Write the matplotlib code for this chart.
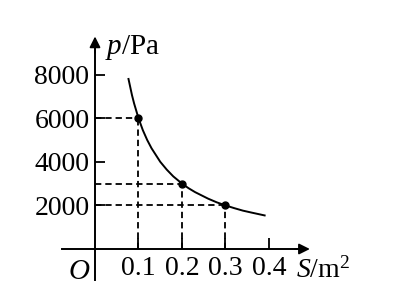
import numpy as np
import matplotlib
matplotlib.use("Agg")
import matplotlib.pyplot as plt

# values
S_pts = [0.1, 0.2, 0.3]
p_pts = [6000, 3000, 2000]

# curve points
S_curve = [0.077, 0.085, 0.09, 0.1, 0.11, 0.12, 0.13, 0.15, 0.165, 0.18, 0.2,
           0.215, 0.23, 0.26, 0.28, 0.3, 0.32, 0.34, 0.36, 0.39]
p_curve = [7800, 7060, 6670, 6000, 5450, 5000, 4620, 4000, 3640, 3330, 3000,
           2790, 2610, 2310, 2140, 2000, 1875, 1760, 1670, 1540]

x_ticks = [0.1, 0.2, 0.3, 0.4]
x_labels = ["0.1", "0.2", "0.3", "0.4"]
y_ticks = [2000, 4000, 6000, 8000]
y_labels = ["2000", "4000", "6000", "8000"]

plt.rcParams["font.family"] = "Liberation Serif"
plt.rcParams["mathtext.fontset"] = "custom"
plt.rcParams["mathtext.rm"] = "Liberation Serif"
plt.rcParams["mathtext.it"] = "Liberation Serif:italic"

fig = plt.figure(figsize=(3.97, 3.01), dpi=100)
ax = fig.add_axes([0, 0, 1, 1])
ax.set_xlim(-0.2184, 0.6943)
ax.set_ylim(-2385, 11422)

# axes through the origin
for side in ["top", "right"]:
    ax.spines[side].set_visible(False)
ax.spines["left"].set_position(("data", 0))
ax.spines["bottom"].set_position(("data", 0))
ax.spines["left"].set_bounds(-1420, 9200)
ax.spines["bottom"].set_bounds(-0.076, 0.47)
ax.spines["left"].set_linewidth(1.4)
ax.spines["bottom"].set_linewidth(1.4)

ax.annotate("", xy=(0, 9750), xytext=(0, 9000),
            arrowprops=dict(arrowstyle="-|>", color="black", lw=1.3,
                            mutation_scale=16, shrinkA=0, shrinkB=0))
ax.annotate("", xy=(0.494, 0), xytext=(0.46, 0),
            arrowprops=dict(arrowstyle="-|>", color="black", lw=1.3,
                            mutation_scale=16, shrinkA=0, shrinkB=0))

ax.set_xticks(x_ticks)
ax.set_xticklabels(x_labels)
ax.set_yticks(y_ticks)
ax.set_yticklabels(y_labels)
ax.tick_params(axis="x", direction="in", length=8, width=1.3, pad=5,
               labelsize=20)
ax.tick_params(axis="y", direction="in", length=7.5, width=1.3, pad=4,
               labelsize=20)

# dashed guides
for s, p in zip(S_pts, p_pts):
    ax.plot([0, s], [p, p], color="black", lw=1.3, ls=(0, (3.5, 2.2)))
    ax.plot([s, s], [0, p], color="black", lw=1.3, ls=(0, (3.5, 2.2)))

ax.plot(S_curve, p_curve, color="black", lw=1.4)
ax.plot(S_pts, p_pts, "o", color="black", markersize=5)

ax.text(0.022, 8950, "$p$/Pa", fontsize=21, ha="left", va="baseline")
ax.text(0.463, -1300, "$S$/m$^2$", fontsize=20, ha="left", va="baseline")
ax.text(-0.036, -1380, "$O$", fontsize=21, ha="center", va="baseline")

fig.savefig("out.png", dpi=100)
